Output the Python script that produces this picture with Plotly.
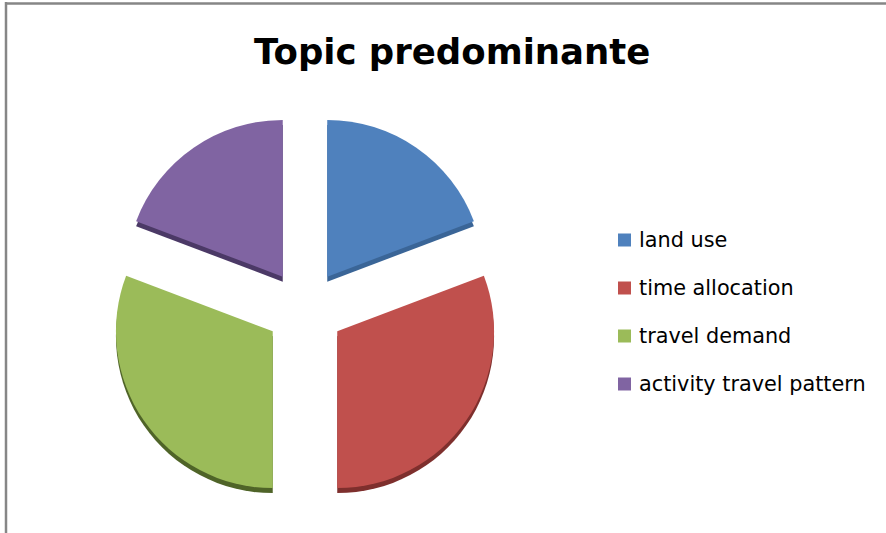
import plotly.graph_objects as go

labels = ["land use", "time allocation", "travel demand", "activity travel pattern"]
values = [5, 8, 8, 5]
colors = ["#4F81BD", "#C0504D", "#9BBB59", "#8064A2"]
side_colors = ["#3A6597", "#7E2F2D", "#4F6428", "#4B3966"]
title_text = "Topic predominante"

W, H = 886, 533
def px(x):
    return x / W
def py(y):
    return 1 - y / H

pull = [0.25] * len(values)
cx, cy, half = 305, 309, 196
dom_x = [px(cx - half), px(cx + half)]
dom_y = [py(cy + half), py(cy - half)]
depth = 5
dom_y_side = [py(cy + half + depth), py(cy - half + depth)]

fig = go.Figure()
fig.add_trace(go.Pie(
    labels=labels, values=values, sort=False, direction="clockwise", rotation=0,
    pull=pull, marker=dict(colors=side_colors, line=dict(width=0)),
    textinfo="none", hoverinfo="skip", showlegend=False,
    domain=dict(x=dom_x, y=dom_y_side),
))
fig.add_trace(go.Pie(
    labels=labels, values=values, sort=False, direction="clockwise", rotation=0,
    pull=pull, marker=dict(colors=colors, line=dict(width=0)),
    textinfo="none", showlegend=False,
    domain=dict(x=dom_x, y=dom_y),
))

shapes = [
    dict(type="line", xref="paper", yref="paper", x0=px(6), x1=px(6), y0=py(2), y1=py(533),
         line=dict(color="#868686", width=2.5)),
    dict(type="line", xref="paper", yref="paper", x0=px(5), x1=px(886), y0=py(3.5), y1=py(3.5),
         line=dict(color="#868686", width=2.5)),
]
annotations = [
    dict(text="<b>" + title_text + "</b>", xref="paper", yref="paper", x=px(452), y=py(52),
         xanchor="center", yanchor="middle", showarrow=False,
         font=dict(family="DejaVu Sans, sans-serif", size=35.5, color="#000000")),
]
leg_y = [240, 288, 336, 384]
for lab, col, yy in zip(labels, colors, leg_y):
    shapes.append(dict(type="rect", xref="paper", yref="paper",
                       x0=px(618), x1=px(631), y0=py(yy + 6.5), y1=py(yy - 6.5),
                       fillcolor=col, line=dict(width=0)))
    annotations.append(dict(text=lab, xref="paper", yref="paper", x=px(637), y=py(yy),
                            xanchor="left", yanchor="middle", showarrow=False,
                            font=dict(family="DejaVu Sans, sans-serif", size=20.8, color="#000000")))

fig.update_layout(
    width=W, height=H, margin=dict(l=0, r=0, t=0, b=0),
    paper_bgcolor="#FFFFFF", plot_bgcolor="#FFFFFF",
    shapes=shapes, annotations=annotations, showlegend=False,
)
fig.write_html("out.html", config={"displayModeBar": False},
               post_script="document.body.style.margin='0';")
